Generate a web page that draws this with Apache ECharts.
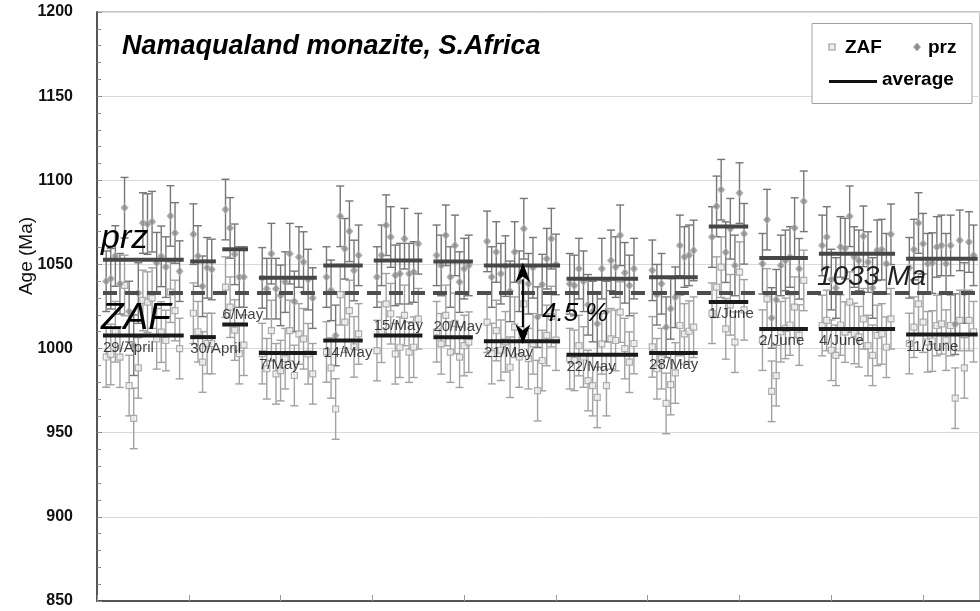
<!DOCTYPE html>
<html>
<head>
<meta charset="utf-8">
<script src="https://cdn.jsdelivr.net/npm/echarts@6/dist/echarts.min.js"></script>
<style>
  html, body { margin: 0; padding: 0; background: #fff; }
  #chart { width: 980px; height: 611px; }
</style>
</head>
<body>
<div id="chart"></div>
<script>
// Measurement sessions (one average bar + date label each)
const sessionLabels = ['29/April', '30/April', '6/May', '7/May', '14/May', '15/May', '20/May',
  '21/May', '22/May', '28/May', '1/June', '2/June', '4/June', '11/June'];

// Running number of the first analysis in each session
const firstPoint = [2, 21, 28, 36, 50, 61, 74, 85, 103, 121, 134, 145, 158, 177];

// Ages (Ma) from the ZAF correction, one list per session
const zafAge = [
  [995, 996.5, 1010, 994.9, 1037.5, 978, 958.5, 988.5, 1028.6, 1027.6, 1030, 1005.8, 1009.8, 1004.8, 1033.5, 1022.6, 1000],
  [1021, 1010, 992, 1003, 1003],
  [1036.5, 1024.6, 1011, 997, 1002],
  [997, 988, 1010.7, 985, 986.9, 994, 1010.7, 984, 1008.7, 1005.8, 996.9, 985],
  [998, 988.5, 964.1, 1032, 1015.7, 1022.6, 1001, 1008.7],
  [998.8, 1009.7, 1026.6, 1020.7, 996.9, 1000.8, 1019.7, 997.9, 1000.8, 1017.7],
  [1010, 1002.8, 1019.7, 997.9, 1015, 994.9, 1001.8, 1003.8],
  [1015.7, 997, 1010.7, 999, 1004, 988.9, 1012.7, 995, 1026.6, 994, 1002.8, 975, 992.9, 1007.8, 1019, 1005],
  [994, 993, 1001.8, 995, 981, 978, 971, 1002.8, 978, 1005.8, 1004.8, 1021.7, 1000, 991.9, 1003],
  [1001, 988, 994, 967.4, 978.6, 985.5, 1013.7, 1008.7, 1010.3, 1012.7],
  [1021, 1036.5, 1048.4, 1011.7, 1026, 1003.8, 1045.4, 1023],
  [1005, 1029.5, 974.6, 983.9, 1010, 1012, 1014, 1024.6, 1008, 1040.5],
  [1013.7, 1016.7, 999, 996, 1014, 1009.8, 1027.6, 1009, 1007, 1017.7, 1001.8, 996, 1007.8, 1008.7, 1000.8, 1017.7],
  [1003, 1012.7, 1026.6, 1015.7, 1004, 1004.5, 1013.7, 1014.7, 1005, 1013.7, 970.5, 1016.7, 988.5, 1016.7, 1010]
];

// Ages (Ma) from the PRZ correction, same analyses
const przAge = [
  [1040, 1041.5, 1055, 1038.5, 1083.7, 1022, 1002, 1033, 1074.6, 1074, 1075.4, 1051, 1054.8, 1048.4, 1078.8, 1068.7, 1046],
  [1068, 1055, 1037, 1048, 1047],
  [1082.6, 1071.7, 1056, 1042.5, 1042.5],
  [1042, 1035.6, 1056.4, 1035.6, 1031.6, 1039.5, 1056.4, 1028, 1054.4, 1051.4, 1041, 1030],
  [1042.5, 1034.6, 1007.8, 1078.6, 1059.3, 1069.7, 1046.4, 1055.4],
  [1042.5, 1055.4, 1073.3, 1066.3, 1043.5, 1044.5, 1065.3, 1044.5, 1045.5, 1062.3],
  [1055.4, 1049.4, 1067.3, 1042.5, 1061.3, 1039.5, 1047.5, 1049.4],
  [1063.7, 1042.5, 1057.4, 1044.5, 1049, 1034, 1057.4, 1040, 1071.2, 1038.5, 1048, 1018.7, 1038, 1053.4, 1065.3, 1050],
  [1038.5, 1037.5, 1047.5, 1040, 1026, 1022, 1014.7, 1047.5, 1022, 1052.4, 1048.4, 1067.3, 1045, 1037.5, 1047.5],
  [1046.5, 1032, 1038.5, 1012.7, 1023.6, 1030.5, 1061.3, 1054.4, 1055.4, 1058.3],
  [1066.3, 1084.5, 1094.4, 1057.3, 1071.2, 1049.4, 1092.4, 1068.2],
  [1050.4, 1076.6, 1018.2, 1029, 1049.4, 1052.4, 1054.4, 1071.6, 1047.4, 1087.5],
  [1061.3, 1066.3, 1041, 1036, 1060.4, 1059.4, 1078.6, 1054.4, 1052.4, 1066.7, 1051.4, 1036, 1058.4, 1058.8, 1050.4, 1067.9],
  [1048, 1058.8, 1074.6, 1062.3, 1050.4, 1050.8, 1060.4, 1061.3, 1050.4, 1061.3, 1014.5, 1064.3, 1033, 1063.3, 1055.4]
];

// Session averages (Ma)
const zafMean = [1007.8, 1006.8, 1014.3, 997.4, 1004.8, 1007.8, 1006.8, 1004.4, 996.4, 997.4, 1027.6, 1011.7, 1011.7, 1008.4];
const przMean = [1052.8, 1051.8, 1059, 1042.1, 1049.4, 1052.4, 1051.8, 1049.4, 1041.5, 1042.4, 1072.6, 1053.8, 1056.4, 1053.4];

// Uncertainty on each single age (Ma)
const zafErr = 18;
const przErr = 18;

// Reference age of the monazite and the ZAF/PRZ offset
const referenceAge = 1033;
const referenceText = '1033 Ma';
const offsetText = '4.5 %';
const offsetSession = 7; // 21/May

// Axis range
const yMin = 850, yMax = 1200, yStep = 50;
const xMin = 0, xStep = 20;

// ---- presentation ----
const FONT = '"Liberation Sans", Arial, Helvetica, sans-serif';
const labelAbove = [false, false, true, false, false, true, true, false, false, false, false, false, false, false];
const X_MAX = 192.4;

// Build point tables
const zafPoints = [], przPoints = [], zafAvg = [], przAvg = [], dateMarks = [];
sessionLabels.forEach((name, s) => {
  zafAge[s].forEach((v, j) => zafPoints.push([firstPoint[s] + j, v, zafErr]));
  przAge[s].forEach((v, j) => przPoints.push([firstPoint[s] + j, v, przErr]));
  const x0 = firstPoint[s] - 0.7;
  const x1 = firstPoint[s] + zafAge[s].length - 1 + 0.9;
  zafAvg.push([x0, x1, zafMean[s]]);
  przAvg.push([x0, x1, przMean[s]]);
  dateMarks.push({ value: [x0, zafMean[s]], name: name, above: labelAbove[s] });
});

function errorBars(color) {
  return function (params, api) {
    const x = api.value(0), v = api.value(1), e = api.value(2);
    const top = api.coord([x, v + e]);
    const bot = api.coord([x, v - e]);
    const w = 4;
    const st = { stroke: color, lineWidth: 1.4 };
    return {
      type: 'group',
      children: [
        { type: 'line', shape: { x1: top[0], y1: top[1], x2: bot[0], y2: bot[1] }, style: st },
        { type: 'line', shape: { x1: top[0] - w, y1: top[1], x2: top[0] + w, y2: top[1] }, style: st },
        { type: 'line', shape: { x1: bot[0] - w, y1: bot[1], x2: bot[0] + w, y2: bot[1] }, style: st }
      ]
    };
  };
}

function avgBars(color) {
  return function (params, api) {
    const a = api.coord([api.value(0), api.value(2)]);
    const b = api.coord([api.value(1), api.value(2)]);
    return { type: 'line', shape: { x1: a[0], y1: a[1], x2: b[0], y2: b[1] }, style: { stroke: color, lineWidth: 4 } };
  };
}

const chart = echarts.init(document.getElementById('chart'), null, { renderer: 'canvas' });

const option = {
  animation: false,
  backgroundColor: '#ffffff',
  textStyle: { fontFamily: FONT },
  grid: { left: 97, right: -1, top: 12, bottom: 10, show: true, borderColor: '#8a8a8a', borderWidth: 1 },
  xAxis: {
    type: 'value', min: xMin, max: X_MAX, interval: xStep,
    axisLabel: { show: false },
    axisTick: { show: true, inside: true, length: 6, lineStyle: { color: '#9a9a9a', width: 1 } },
    axisLine: { show: true, lineStyle: { color: '#555', width: 2 } },
    splitLine: { show: false }
  },
  yAxis: {
    type: 'value', min: yMin, max: yMax, interval: yStep,
    axisLabel: {
      fontSize: 16, fontWeight: 'bold', color: '#111', margin: 24, fontFamily: FONT,
      padding: [4, 0, 0, 0],
      formatter: v => String(v)
    },
    axisLine: { show: true, lineStyle: { color: '#555', width: 2 } },
    axisTick: { show: true, inside: true, length: 5, lineStyle: { color: '#8a8a8a' } },
    minorTick: { show: true, splitNumber: 5, length: 4, lineStyle: { color: '#8a8a8a' } },
    splitLine: { show: true, lineStyle: { color: '#dadada', width: 1 } }
  },
  series: [
    { name: 'ZAF error', type: 'custom', renderItem: errorBars('#a2a2a2'), data: zafPoints, encode: { x: 0, y: 1 }, z: 2, silent: true },
    { name: 'prz error', type: 'custom', renderItem: errorBars('#767676'), data: przPoints, encode: { x: 0, y: 1 }, z: 3, silent: true },
    {
      name: 'ZAF', type: 'scatter', symbol: 'rect', symbolSize: 6, z: 4,
      data: zafPoints.map(p => [p[0], p[1]]),
      itemStyle: { color: '#f0f0f0', borderColor: '#9c9c9c', borderWidth: 1.2 }
    },
    {
      name: 'prz', type: 'scatter', symbol: 'diamond', symbolSize: [7, 8], z: 5,
      data: przPoints.map(p => [p[0], p[1]]),
      itemStyle: { color: '#8c8c8c', borderColor: '#b4b4b4', borderWidth: 1 }
    },
    { name: 'prz average', type: 'custom', renderItem: avgBars('#464646'), data: przAvg, encode: { x: [0, 1], y: 2 }, z: 6, silent: true },
    { name: 'ZAF average', type: 'custom', renderItem: avgBars('#1a1a1a'), data: zafAvg, encode: { x: [0, 1], y: 2 }, z: 6, silent: true },
    {
      name: 'reference', type: 'line', symbol: 'none', z: 7, silent: true,
      data: [[1.3, referenceAge], [X_MAX, referenceAge]],
      lineStyle: { color: '#4d4d4d', width: 4, type: [14, 8] }
    },
    {
      name: 'offset arrow', type: 'custom', z: 9, silent: true,
      data: [[firstPoint[offsetSession] + 7.8, zafMean[offsetSession], przMean[offsetSession]]],
      encode: { x: 0, y: [1, 2] },
      renderItem: function (params, api) {
        const lo = api.coord([api.value(0), api.value(1)]);
        const hi = api.coord([api.value(0), api.value(2)]);
        const x = lo[0];
        const hw = 7.5, hh = 20, notch = 14;
        return {
          type: 'group',
          children: [
            { type: 'line', shape: { x1: x, y1: hi[1] + notch, x2: x, y2: lo[1] - notch }, style: { stroke: '#000', lineWidth: 2 } },
            { type: 'polygon', shape: { points: [[x, hi[1] - 3], [x - hw, hi[1] - 3 + hh], [x, hi[1] - 3 + notch], [x + hw, hi[1] - 3 + hh]] }, style: { fill: '#000' } },
            { type: 'polygon', shape: { points: [[x, lo[1] + 3], [x - hw, lo[1] + 3 - hh], [x, lo[1] + 3 - notch], [x + hw, lo[1] + 3 - hh]] }, style: { fill: '#000' } }
          ]
        };
      }
    },
    {
      name: 'session dates', type: 'scatter', symbolSize: 0, z: 10, silent: true,
      data: dateMarks.map(d => ({
        value: d.value, name: d.name,
        label: { position: [0, d.above ? -10 : 12] }
      })),
      label: {
        show: true, formatter: '{b}', align: 'left', verticalAlign: 'middle',
        fontSize: 15, color: '#111', fontFamily: FONT
      }
    }
  ],
  graphic: [
    {
      type: 'text', x: 122, y: 47, z: 20,
      style: { text: 'Namaqualand monazite, S.Africa', font: 'italic bold 27px ' + FONT, fill: '#000', verticalAlign: 'middle' }
    },
    // legend box
    { type: 'rect', shape: { x: 812, y: 23.5, width: 160, height: 80 }, style: { fill: '#fff', stroke: '#a0a0a0', lineWidth: 1 }, z: 20 },
    { type: 'rect', shape: { x: 829, y: 44, width: 6, height: 6 }, style: { fill: '#f0f0f0', stroke: '#9c9c9c', lineWidth: 1.2 }, z: 21 },
    { type: 'text', x: 845, y: 47.5, style: { text: 'ZAF', font: 'bold 19px ' + FONT, fill: '#000', verticalAlign: 'middle' }, z: 21 },
    { type: 'polygon', shape: { points: [[917, 43], [920.5, 47], [917, 51], [913.5, 47]] }, style: { fill: '#8c8c8c', stroke: '#b4b4b4', lineWidth: 1 }, z: 21 },
    { type: 'text', x: 928, y: 47.5, style: { text: 'prz', font: 'bold 19px ' + FONT, fill: '#000', verticalAlign: 'middle' }, z: 21 },
    { type: 'line', shape: { x1: 829, y1: 81.5, x2: 877, y2: 81.5 }, style: { stroke: '#111', lineWidth: 3 }, z: 21 },
    { type: 'text', x: 882, y: 80, style: { text: 'average', font: 'bold 19px ' + FONT, fill: '#000', verticalAlign: 'middle' }, z: 21 },
    // axis title
    { type: 'text', x: 27, y: 256, rotation: Math.PI / 2, z: 20,
      style: { text: 'Age (Ma)', font: '19px ' + FONT, fill: '#111', align: 'center', verticalAlign: 'middle' } },
    // series annotations
    { type: 'text', x: 101, y: 239, z: 20, style: { text: 'prz', font: 'italic 34px ' + FONT, fill: '#000', verticalAlign: 'middle' } },
    { type: 'text', x: 101, y: 319, z: 20, style: { text: 'ZAF', font: 'italic 37px ' + FONT, fill: '#000', verticalAlign: 'middle' } },
    { type: 'text', x: 817, y: 277, z: 20, style: { text: referenceText, font: 'italic 28px ' + FONT, fill: '#222', verticalAlign: 'middle' } },
    { type: 'text', x: 542, y: 314, z: 20, style: { text: offsetText, font: 'italic 26px ' + FONT, fill: '#000', verticalAlign: 'middle' } }
  ]
};

chart.setOption(option);
</script>
</body>
</html>
